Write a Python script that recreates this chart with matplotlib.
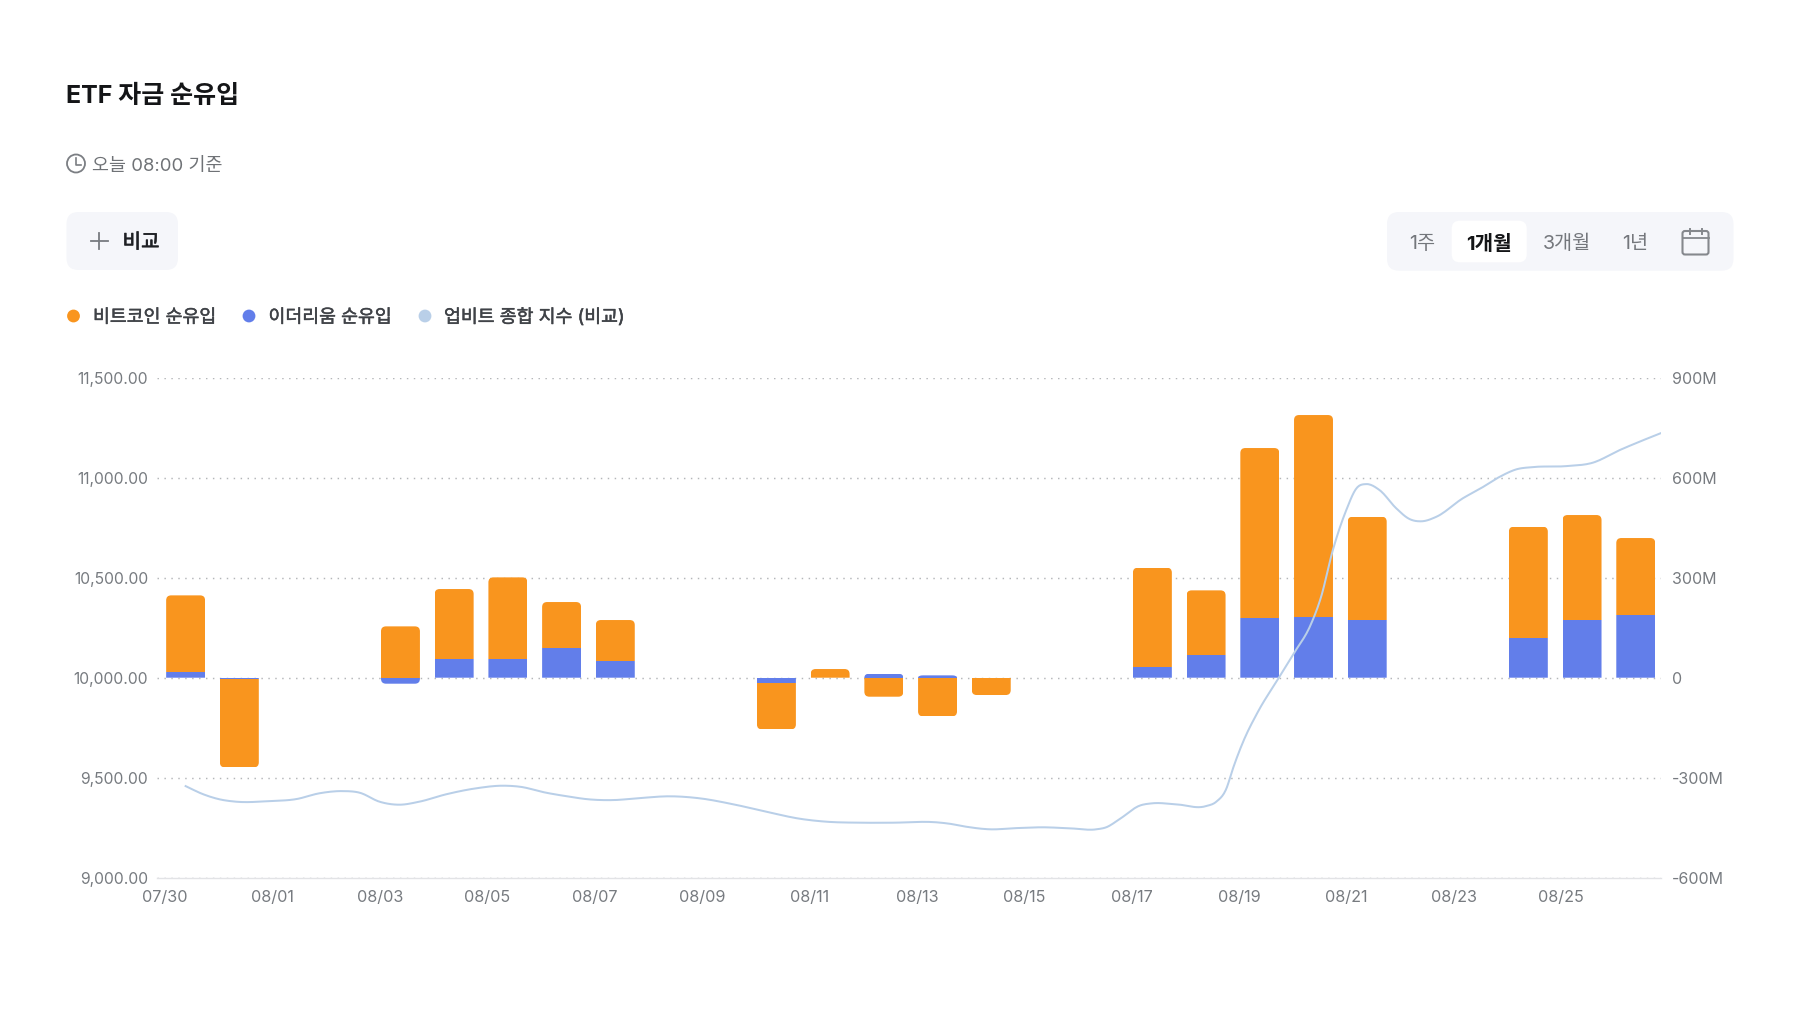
import numpy as np
import matplotlib
matplotlib.use("Agg")
import matplotlib.pyplot as plt
import matplotlib.patheffects as pe
from matplotlib.patches import FancyBboxPatch, Circle
from matplotlib.path import Path
from matplotlib.lines import Line2D

FONT = ['Inter', 'Noto Sans CJK KR', 'DejaVu Sans']
plt.rcParams['font.family'] = FONT

# ---- data ----
title = "ETF 자금 순유입"
subtitle = "오늘 08:00 기준"
compare_label = "비교"
range_labels = ["1주", "1개월", "3개월", "1년"]
series_names = ["비트코인 순유입", "이더리움 순유입", "업비트 종합 지수 (비교)"]

day_index = list(range(28))
btc_flow = [231, -265, 0, 0, 154, 211, 246, 137, 123, 0, 0, -138, 26, -57, -116, -52, 0, 0,
            299, 193, 511, 605, 310, 0, 0, 334, 315, 230]
eth_flow = [16, -4, 0, 0, -18, 55, 55, 90, 50, 0, 0, -17, 0, 12, 7, 0, 0, 0,
            31, 69, 178, 183, 173, 0, 0, 119, 173, 189]

index_day = [0.0, 0.32, 0.63, 0.94, 1.56, 2.06, 2.49, 2.92, 3.24, 3.61, 3.98, 4.35, 4.85, 5.41, 5.90,
             6.22, 6.71, 7.15, 7.46, 7.95, 8.45, 9.01, 9.57, 10.18, 10.81, 11.43, 11.93, 12.55,
             13.16, 13.98, 14.22, 14.53, 14.97, 15.47, 15.96, 16.46, 16.96, 17.14, 17.39, 17.76,
             18.00, 18.44, 19.00, 19.19, 19.38, 19.49, 19.69, 19.96, 20.35, 20.63, 20.95, 21.14,
             21.36, 21.61, 21.80, 21.98, 22.23, 22.54, 22.79, 23.01, 23.29, 23.78, 24.09, 24.47,
             24.78, 25.08, 25.71, 26.20, 26.70, 27.07, 27.46]
index_value = [9458, 9418, 9392, 9380, 9383, 9393, 9422, 9433, 9425, 9380, 9365, 9380, 9417, 9447, 9460,
               9455, 9425, 9405, 9393, 9388, 9398, 9407, 9397, 9368, 9330, 9295, 9280, 9275,
               9275, 9277, 9270, 9255, 9242, 9248, 9252, 9247, 9242, 9252, 9293, 9360,
               9372, 9367, 9358, 9380, 9447, 9538, 9680, 9827, 9998, 10120, 10266, 10403,
               10638, 10838, 10947, 10968, 10938, 10847, 10793, 10782, 10805, 10897, 10943, 11005,
               11042, 11053, 11058, 11075, 11138, 11180, 11222]

date_labels = ["07/30", "08/01", "08/03", "08/05", "08/07", "08/09", "08/11", "08/13",
               "08/15", "08/17", "08/19", "08/21", "08/23", "08/25"]
left_ticks = [9000, 9500, 10000, 10500, 11000, 11500]
right_ticks = [-600, -300, 0, 300, 600, 900]
right_labels = ["-600M", "-300M", "0", "300M", "600M", "900M"]

ORANGE = "#F9951E"
BLUE = "#627EEA"
LINE = "#B9CFE8"
TICK = "#777B80"

W, H = 1800, 1014
fig = plt.figure(figsize=(18, 10.14), dpi=100, facecolor="white")

# ---- chart ----
L, R, T, B = 157, 1661, 377.7, 877.7
ax = fig.add_axes([L / W, 1 - B / H, (R - L) / W, (B - T) / H])
ax.set_xlim(-0.533, 27.47)
ax.set_ylim(-600, 900)
ax.set_facecolor("none")
for s in ax.spines.values():
    s.set_visible(False)
ax.spines['bottom'].set_visible(True)
ax.spines['bottom'].set_color("#E2E3E6")
ax.spines['bottom'].set_linewidth(1.0)

ax.yaxis.grid(True, color="#B4B6B9", linewidth=1.05, linestyle=(0, (1, 3.75)))
ax.set_axisbelow(True)
ax.set_xticks([2 * i - 0.385 for i in range(len(date_labels))])
ax.set_xticklabels(date_labels, fontsize=11.7, color=TICK)
ax.tick_params(axis='x', length=0, pad=9)

x = np.array(day_index, dtype=float)
btc = np.array(btc_flow, dtype=float)
eth = np.array(eth_flow, dtype=float)
btc_base = np.where(np.sign(btc) == np.sign(eth), eth, 0.0)
width = 0.725
eth_bars = ax.bar(x, eth, width=width, color=BLUE, linewidth=0, zorder=3)
btc_bars = ax.bar(x, btc, width=width, bottom=btc_base, color=ORANGE, linewidth=0, zorder=3)

# rounded outer corners, made by clipping the library's bars
fig.canvas.draw()
(px0, py0), (px1, py1) = ax.transData.transform([(0, 0), (1, 1)])
rx_unit, ry_unit = 1 / (px1 - px0), 1 / (py1 - py0)
RAD = 5.0


def clip_for(xc, lo, hi):
    xl, xr = xc - width / 2, xc + width / 2
    rx = RAD * rx_unit
    rt = min(RAD * ry_unit, hi) if hi > 0 else 0
    rb = min(RAD * ry_unit, -lo) if lo < 0 else 0
    v, c = [(xl, lo + rb)], [Path.MOVETO]
    v += [(xl, hi - rt), (xl, hi), (xl + rx, hi), (xr - rx, hi), (xr, hi), (xr, hi - rt), (xr, lo + rb),
          (xr, lo), (xr - rx, lo), (xl + rx, lo), (xl, lo), (xl, lo + rb), (xl, lo + rb)]
    c += [Path.LINETO, Path.CURVE3, Path.CURVE3, Path.LINETO, Path.CURVE3, Path.CURVE3, Path.LINETO,
          Path.CURVE3, Path.CURVE3, Path.LINETO, Path.CURVE3, Path.CURVE3, Path.CLOSEPOLY]
    return Path(v, c)


for i in range(len(x)):
    if btc[i] == 0 and eth[i] == 0:
        continue
    tops = max(eth[i], 0) + max(btc[i], 0)
    lows = min(eth[i], 0) + min(btc[i], 0)
    p = clip_for(x[i], lows, tops)
    eth_bars[i].set_clip_path(p, ax.transData)
    btc_bars[i].set_clip_path(p, ax.transData)

ax2 = ax.twinx()
ax2.set_ylim(9000, 11500)
ax2.yaxis.tick_left()
ax2.set_yticks(left_ticks)
ax2.set_yticklabels([f"{v:,.2f}" for v in left_ticks], fontsize=11.3, color=TICK)
ax2.tick_params(axis='y', length=0, pad=6.3)
for s in ax2.spines.values():
    s.set_visible(False)

ax.yaxis.tick_right()
ax.set_yticks(right_ticks)
ax.set_yticklabels(right_labels, fontsize=11.5, color=TICK)
ax.tick_params(axis='y', length=0, pad=7.8)


def smooth(xs, ys, per=12):
    """Draw a rounded curve through the read points, as the chart's own curve does."""
    xs, ys = np.asarray(xs, float), np.asarray(ys, float)
    m = np.gradient(ys, xs)
    out_x, out_y = [], []
    for k in range(len(xs) - 1):
        h = xs[k + 1] - xs[k]
        t = np.linspace(0, 1, per, endpoint=False)
        out_x.append(xs[k] + t * h)
        out_y.append((2 * t**3 - 3 * t**2 + 1) * ys[k] + (t**3 - 2 * t**2 + t) * h * m[k]
                     + (-2 * t**3 + 3 * t**2) * ys[k + 1] + (t**3 - t**2) * h * m[k + 1])
    return np.r_[np.concatenate(out_x), xs[-1]], np.r_[np.concatenate(out_y), ys[-1]]


ax2.plot(*smooth(index_day, index_value), color=LINE, linewidth=1.45, solid_joinstyle='round', zorder=5)

# ---- page furniture, in pixel coordinates ----
ui = fig.add_axes([0, 0, 1, 1], zorder=10)
ui.set_xlim(0, W)
ui.set_ylim(H, 0)
ui.axis("off")
ui.patch.set_visible(False)

thicker = [pe.withStroke(linewidth=0.35, foreground="#3F4247")]


def box(x0, y0, x1, y1, r, fc):
    ui.add_patch(FancyBboxPatch((x0 + r, y0 + r), x1 - x0 - 2 * r, y1 - y0 - 2 * r,
                                boxstyle=f"round,pad={r},rounding_size={r}", fc=fc, ec="none"))


ui.text(66.5, 96, title, fontsize=18, fontweight="bold", color="#141517", va="center", ha="left")

ui.add_patch(Circle((76, 163.5), 9, fc="none", ec="#7B7E83", lw=1.3))
ui.add_line(Line2D([76, 76, 80.5], [158, 164.5, 164.5], color="#7B7E83", lw=1.2))
ui.text(92.5, 166, subtitle, fontsize=13.3, color="#6F7276", va="center", ha="left")

box(66.5, 212, 178, 270, 12, "#F5F6FA")
ui.add_line(Line2D([91, 107.5], [241, 241], color="#777B80", lw=1.3))
ui.add_line(Line2D([99.3, 99.3], [233, 249], color="#777B80", lw=1.3))
ui.text(122.5, 243, compare_label, fontsize=14.5, color="#1E2024", va="center", ha="left",
        path_effects=[pe.withStroke(linewidth=0.4, foreground="#1E2024")])

box(1387, 212, 1733.5, 270.7, 12, "#F5F6FA")
box(1451.7, 220.7, 1526.7, 262.3, 8, "#FFFFFF")
for label, cx, active in zip(range_labels, [1422, 1489, 1566.7, 1635], [False, True, False, False]):
    ui.text(cx, 244, label, fontsize=14.5 if active else 14.2, ha="center", va="center",
            color="#141517" if active else "#74777C", fontweight="bold" if active else "normal")
box(1682.5, 231, 1708.5, 254.5, 2.5, "#F5F6FA")
ui.patches[-1].set_edgecolor("#85888D")
ui.patches[-1].set_linewidth(1.5)
ui.add_line(Line2D([1682.5, 1708.5], [238, 238], color="#85888D", lw=1.3))
for tx in (1690, 1701.5):
    ui.add_line(Line2D([tx, tx], [228.5, 233.5], color="#85888D", lw=1.4))

for name, col, dx, tx in zip(series_names, [ORANGE, BLUE, LINE], [73.5, 249, 425], [93, 268.5, 444]):
    ui.add_patch(Circle((dx, 316), 6.4, fc=col, ec="none"))
    ui.text(tx, 318, name, fontsize=13.2, color="#3F4247", va="center", ha="left", path_effects=thicker)

fig.savefig("out.png", dpi=100, facecolor="white")
